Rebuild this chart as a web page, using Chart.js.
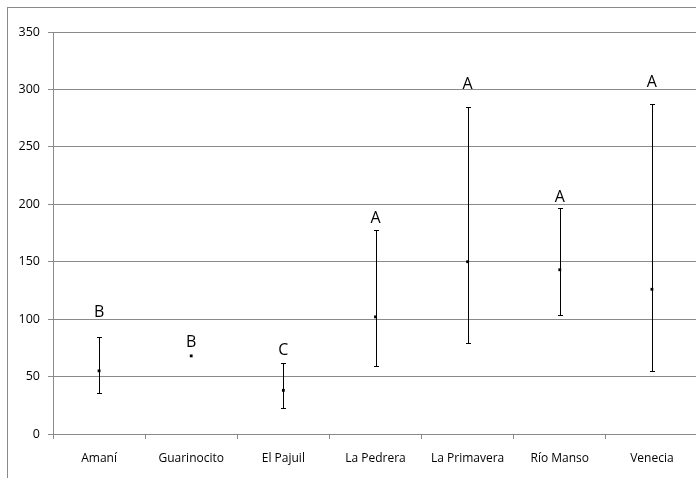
<!DOCTYPE html>
<html>
<head>
<meta charset="utf-8">
<script src="https://cdn.jsdelivr.net/npm/chart.js@4/dist/chart.umd.min.js"></script>
<style>
html,body{margin:0;padding:0;background:#fff;overflow:hidden;}
#wrap{position:relative;width:696px;height:478px;overflow:hidden;}
#c{display:block;}
</style>
</head>
<body>
<div id="wrap"><canvas id="c" width="702" height="478"></canvas></div>
<script>
const categories = ['Amaní','Guarinocito','El Pajuil','La Pedrera','La Primavera','Río Manso','Venecia'];
const means = [55, 68, 38, 102, 150, 143, 126];
const lows  = [36, null, 23, 59, 79, 104, 55];
const highs = [84.5, null, 62, 178, 285, 196.5, 287];
const groupLetters = ['B','B','C','A','A','A','A'];
const letterY = [105.5, 80, 73, 188, 304, 206, 306.5];
const yTicks = [0,50,100,150,200,250,300,350];

const FONT = "'Open Sans', 'Noto Sans', sans-serif";

const errorBars = {
  id: 'errorBars',
  afterDatasetsDraw(chart) {
    const ctx = chart.ctx;
    const xs = chart.scales.x, ys = chart.scales.y;
    ctx.save();
    ctx.strokeStyle = '#000';
    ctx.lineWidth = 1;
    for (let i = 0; i < categories.length; i++) {
      if (lows[i] == null || highs[i] == null) continue;
      const x = Math.round(xs.getPixelForValue(i)) + 0.5;
      const yl = Math.round(ys.getPixelForValue(lows[i])) + 0.5;
      const yh = Math.round(ys.getPixelForValue(highs[i])) + 0.5;
      ctx.beginPath();
      ctx.moveTo(x, yl); ctx.lineTo(x, yh);
      ctx.moveTo(x - 2.5, yl); ctx.lineTo(x + 2.5, yl);
      ctx.moveTo(x - 2.5, yh); ctx.lineTo(x + 2.5, yh);
      ctx.stroke();
    }
    ctx.fillStyle = '#000';
    ctx.font = '16px ' + FONT;
    ctx.textAlign = 'center';
    ctx.textBaseline = 'middle';
    for (let i = 0; i < categories.length; i++) {
      const x = xs.getPixelForValue(i);
      const y = ys.getPixelForValue(letterY[i]);
      ctx.fillText(groupLetters[i], x, y);
    }
    ctx.restore();
  }
};

const frame = {
  id: 'frame',
  afterDraw(chart) {
    const ctx = chart.ctx;
    ctx.save();
    ctx.strokeStyle = '#8a8a8a';
    ctx.lineWidth = 1;
    ctx.strokeRect(7.5, 7.5, 800, 800);
    ctx.restore();
  }
};

new Chart(document.getElementById('c'), {
  type: 'line',
  data: {
    labels: categories,
    datasets: [{
      data: means,
      showLine: false,
      pointStyle: 'rect',
      pointRadius: 2,
      pointBackgroundColor: '#000',
      pointBorderColor: '#000',
      pointBorderWidth: 0
    }]
  },
  options: {
    responsive: false,
    animation: false,
    devicePixelRatio: 1,
    layout: { padding: { top: 32, left: 0, right: 0, bottom: 0 } },
    plugins: { legend: { display: false }, tooltip: { enabled: false } },
    scales: {
      x: {
        type: 'category',
        offset: true,
        grid: { offset: true, drawOnChartArea: false, drawTicks: true, tickLength: 5, color: '#8a8a8a' },
        border: { color: '#8a8a8a' },
        ticks: { color: '#000', font: { family: FONT, size: 12 }, padding: 12, maxRotation: 0, autoSkip: false },
        afterFit(s) { s.height = 44; }
      },
      y: {
        min: 0, max: 350,
        afterBuildTicks(s) { s.ticks = yTicks.map(v => ({ value: v })); },
        grid: { color: '#8a8a8a', tickLength: 5 },
        border: { color: '#8a8a8a' },
        ticks: { color: '#000', font: { family: FONT, size: 12.5 }, padding: 8 },
        afterFit(s) { s.width = 53; }
      }
    }
  },
  plugins: [errorBars, frame]
});
</script>
</body>
</html>
